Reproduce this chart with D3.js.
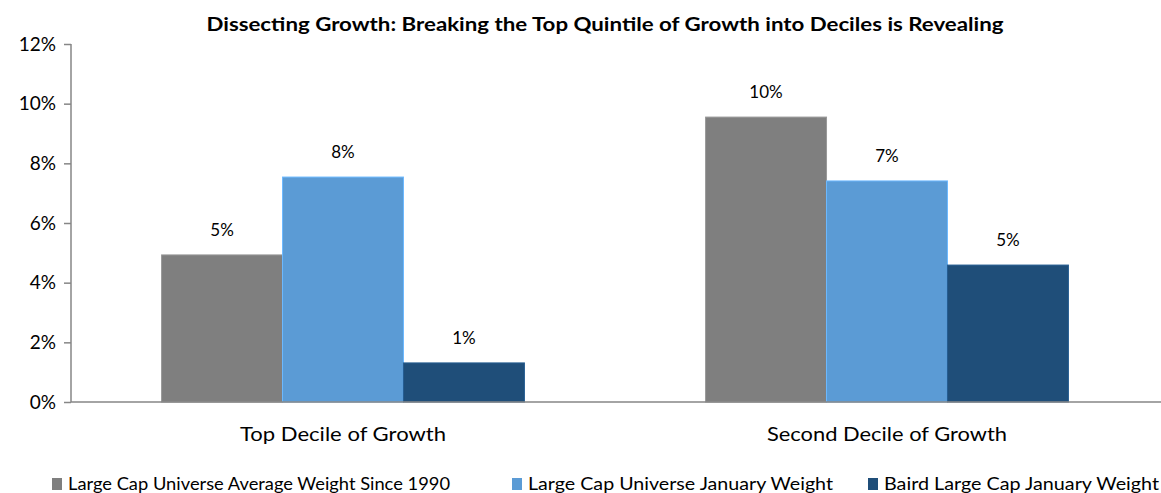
<!DOCTYPE html>
<html lang="en">
<head>
<meta charset="utf-8">
<title>Dissecting Growth</title>
<script src="https://cdn.jsdelivr.net/npm/d3@7"></script>
<style>
body { margin: 0; background: #fff; }
text { font-family: Lato, "Open Sans", sans-serif; fill: #000; }
</style>
</head>
<body>
<script>
// data
var categories = ["Top Decile of Growth", "Second Decile of Growth"];
var seriesNames = ["Large Cap Universe Average Weight Since 1990", "Large Cap Universe January Weight", "Baird Large Cap January Weight"];
var avgSince1990 = [4.93, 9.55];
var universeJan = [7.54, 7.41];
var bairdJan = [1.31, 4.59];
var yTicks = [0, 2, 4, 6, 8, 10, 12];
var colors = ["#7f7f7f", "#5b9bd5", "#1f4e79"];

var width = 1161, height = 493;
var margin = {top: 44, right: 2, bottom: 91, left: 71};

var svg = d3.select("body").append("svg")
    .attr("width", width)
    .attr("height", height);

svg.append("text")
    .attr("x", 605)
    .attr("y", 31)
    .attr("text-anchor", "middle")
    .attr("font-size", "19px")
    .attr("font-weight", "bold")
    .attr("textLength", 797)
    .attr("lengthAdjust", "spacingAndGlyphs")
    .text("Dissecting Growth: Breaking the Top Quintile of Growth into Deciles is Revealing");

var x0 = d3.scaleBand()
    .domain(categories)
    .range([margin.left, width - margin.right])
    .paddingInner(0.333)
    .paddingOuter(0.1665);

var x1 = d3.scaleBand()
    .domain(d3.range(seriesNames.length))
    .range([0, x0.bandwidth()]);

var y = d3.scaleLinear()
    .domain([0, 12])
    .range([height - margin.bottom, margin.top]);

// y axis
var yAxis = svg.append("g")
    .attr("transform", "translate(" + margin.left + ",0)")
    .call(d3.axisLeft(y).tickValues(yTicks).tickSize(7).tickPadding(8).tickFormat(function(d) { return d + "%"; }));
yAxis.selectAll("path, line").attr("stroke", "#868686").attr("stroke-width", 1.5);
yAxis.select(".domain").attr("d", "M0," + y(12) + "V" + y(0));
yAxis.selectAll("text").attr("font-size", "19px").attr("font-family", "Lato, sans-serif").attr("fill", "#000");

var rows = categories.map(function(c, i) {
    return {cat: c, vals: [avgSince1990[i], universeJan[i], bairdJan[i]]};
});

var groups = svg.selectAll(".grp")
    .data(rows)
    .enter().append("g")
    .attr("class", "grp")
    .attr("transform", function(d) { return "translate(" + x0(d.cat) + ",0)"; });

groups.selectAll("rect")
    .data(function(d) { return d.vals; })
    .enter().append("rect")
    .attr("x", function(d, i) { return x1(i); })
    .attr("y", function(d) { return y(d); })
    .attr("width", x1.bandwidth())
    .attr("height", function(d) { return y(0) - y(d); })
    .attr("fill", function(d, i) { return colors[i]; })
    .attr("stroke", function(d, i) { return d3.color(colors[i]).brighter(0.5); })
    .attr("stroke-width", 1);

groups.selectAll(".lbl")
    .data(function(d) { return d.vals; })
    .enter().append("text")
    .attr("class", "lbl")
    .attr("x", function(d, i) { return x1(i) + x1.bandwidth() / 2; })
    .attr("y", function(d) { return y(d) - 19; })
    .attr("text-anchor", "middle")
    .attr("font-size", "17px")
    .text(function(d) { return Math.round(d) + "%"; });

// x axis line
svg.append("line")
    .attr("x1", margin.left)
    .attr("x2", width)
    .attr("y1", y(0))
    .attr("y2", y(0))
    .attr("stroke", "#868686")
    .attr("stroke-width", 1.5);

var catW = [206, 240];
svg.selectAll(".cat")
    .data(categories)
    .enter().append("text")
    .attr("class", "cat")
    .attr("x", function(d) { return x0(d) + x0.bandwidth() / 2; })
    .attr("y", y(0) + 39)
    .attr("text-anchor", "middle")
    .attr("font-size", "20px")
    .attr("textLength", function(d, i) { return catW[i]; })
    .attr("lengthAdjust", "spacingAndGlyphs")
    .text(function(d) { return d; });

// legend
var legendX = [52, 512, 868];
var legendW = [382, 305, 275];
var legend = svg.selectAll(".leg")
    .data(seriesNames)
    .enter().append("g")
    .attr("class", "leg")
    .attr("transform", function(d, i) { return "translate(" + legendX[i] + ",478)"; });
legend.append("rect")
    .attr("width", 10)
    .attr("height", 12)
    .attr("fill", function(d, i) { return colors[i]; });
legend.append("text")
    .attr("x", 16)
    .attr("y", 12)
    .attr("font-size", "17px")
    .attr("textLength", function(d, i) { return legendW[i]; })
    .attr("lengthAdjust", "spacingAndGlyphs")
    .text(function(d) { return d; });
</script>
</body>
</html>
